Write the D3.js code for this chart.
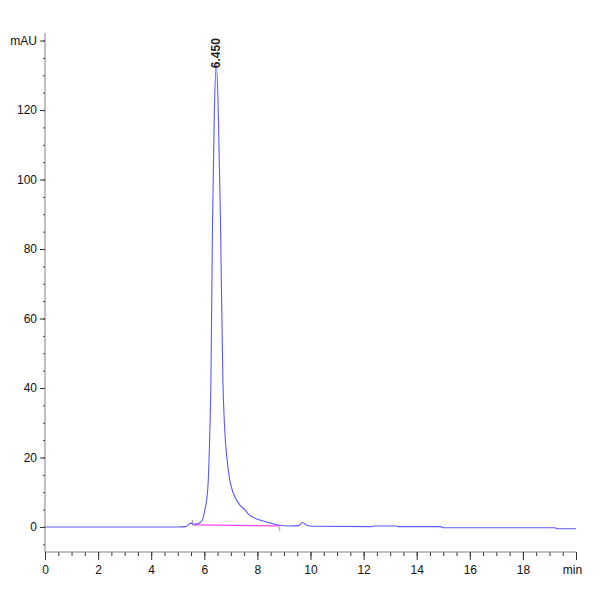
<!DOCTYPE html>
<html>
<head>
<meta charset="utf-8">
<script src="https://cdn.jsdelivr.net/npm/d3@7"></script>
<style>
  body { margin: 0; background: #fff; }
  text { font-family: "Liberation Sans Narrow", "Liberation Sans", Arial, sans-serif; }
</style>
</head>
<body>
<div id="chart"></div>
<script>
let tempi = [0, 2, 4, 5.0, 5.3, 5.4, 5.5, 5.6, 5.75, 5.85, 5.95, 6.02, 6.09, 6.15, 6.21, 6.25, 6.31, 6.38, 6.45,
             6.52, 6.61, 6.70, 6.77, 6.85, 6.96, 7.08, 7.21, 7.35, 7.53, 7.65, 7.78, 7.95, 8.09, 8.3, 8.5, 8.84,
             9.2, 9.55, 9.7, 9.85, 10.1,
             12.3, 12.4, 13.2, 13.3, 14.9, 15.0, 19.2, 19.3, 20];
let segnale = [0, 0, 0, 0, 0.1, 0.6, 1.1, 0.8, 0.9, 1.3, 2.5, 4.9, 7.8, 13.5, 27.9, 42, 88, 120, 133.2,
               122, 88, 42, 28, 20, 13.5, 10, 7.8, 6.2, 4.9, 3.8, 3.0, 2.4, 2.0, 1.5, 1.1, 0.5,
               0.3, 0.4, 1.3, 0.5, 0.2,
               0.1, 0.3, 0.3, 0.1, 0.1, -0.2, -0.2, -0.5, -0.5];

// linea di base dell'integrazione
let baseTempi = [5.55, 8.84];
let baseValori = [0.6, 0.3];

// etichette dei picchi
let picchiTempo = [6.45];
let picchiLabel = ["6.450"];

let yMajor = [0, 20, 40, 60, 80, 100, 120, 140];
let xMajor = [0, 2, 4, 6, 8, 10, 12, 14, 16, 18, 20];

let width = 600, height = 600;

let svg = d3.select("#chart").append("svg")
    .attr("width", width)
    .attr("height", height);

let x = d3.scaleLinear().domain([0, 20]).range([45, 576]);
let y = d3.scaleLinear().domain([-7.2, 141.6]).range([552, 35]);

let axisColor = "#808080";
let fontAssi = "'Liberation Sans Narrow', 'Liberation Sans', Arial, sans-serif";

// asse Y
let yMinor = d3.range(-5, 141, 5);
svg.append("g")
    .attr("transform", "translate(45,0)")
    .call(d3.axisLeft(y).tickValues(yMinor).tickSize(2).tickFormat(""))
    .call(g => g.select(".domain").remove())
    .selectAll("line").attr("stroke", "#333");

let yAxis = svg.append("g")
    .attr("transform", "translate(45,0)")
    .call(d3.axisLeft(y).tickValues(yMajor).tickSize(5).tickPadding(3)
        .tickFormat(d => d === 140 ? "mAU" : d));
yAxis.select(".domain").attr("stroke", axisColor).attr("d", `M0,${y.range()[1] - 2}V${y.range()[0]}`);
yAxis.selectAll("line").attr("stroke", "#333");
yAxis.selectAll("text").attr("font-size", 12).attr("fill", "#111").style("font-family", fontAssi);

// asse X
let xMinor = d3.range(0, 20.01, 0.5);
svg.append("g")
    .attr("transform", "translate(0,552)")
    .call(d3.axisBottom(x).tickValues(xMinor).tickSize(4).tickFormat(""))
    .call(g => g.select(".domain").remove())
    .selectAll("line").attr("stroke", "#333");

let xAxis = svg.append("g")
    .attr("transform", "translate(0,552)")
    .call(d3.axisBottom(x).tickValues(xMajor).tickSize(8).tickPadding(5)
        .tickFormat(d => d === 20 ? "min" : d));
xAxis.select(".domain").attr("stroke", axisColor).attr("d", `M${x.range()[0]},0H${x.range()[1]}`);
xAxis.selectAll("line").attr("stroke", "#333");
xAxis.selectAll("text").attr("font-size", 12).attr("fill", "#111").style("font-family", fontAssi);
xAxis.selectAll(".tick").filter(d => d === 20).select("text").attr("dx", -4);

// linea di base (magenta)
let basePts = baseTempi.map((t, i) => [t, baseValori[i]]);
svg.append("path")
    .datum(basePts)
    .attr("fill", "none")
    .attr("stroke", "#ff44ee")
    .attr("stroke-width", 1.3)
    .attr("d", d3.line().x(d => x(d[0])).y(d => y(d[1])));

// segni di inizio/fine integrazione
svg.append("line")
    .attr("x1", x(baseTempi[0])).attr("x2", x(baseTempi[0]))
    .attr("y1", y(baseValori[0]) - 5).attr("y2", y(baseValori[0]) - 1)
    .attr("stroke", "#999").attr("stroke-width", 1);
svg.append("line")
    .attr("x1", x(baseTempi[1])).attr("x2", x(baseTempi[1]))
    .attr("y1", y(baseValori[1]) + 1).attr("y2", y(baseValori[1]) + 5)
    .attr("stroke", "#999").attr("stroke-width", 1);

// cromatogramma
let punti = tempi.map((t, i) => [t, segnale[i]]);
svg.append("path")
    .datum(punti)
    .attr("fill", "none")
    .attr("stroke", "#5a5aff")
    .attr("stroke-width", 1.1)
    .attr("d", d3.line().curve(d3.curveMonotoneX).x(d => x(d[0])).y(d => y(d[1])));

// etichetta del picco, ruotata
picchiTempo.forEach((t, i) => {
    let px = x(t), py = y(133.2) + 4;
    svg.append("text")
        .attr("transform", `translate(${px + 4},${py}) rotate(-90)`)
        .attr("font-size", 12)
        .attr("font-weight", "bold")
        .attr("fill", "#222")
        .text(picchiLabel[i]);
});
</script>
</body>
</html>
